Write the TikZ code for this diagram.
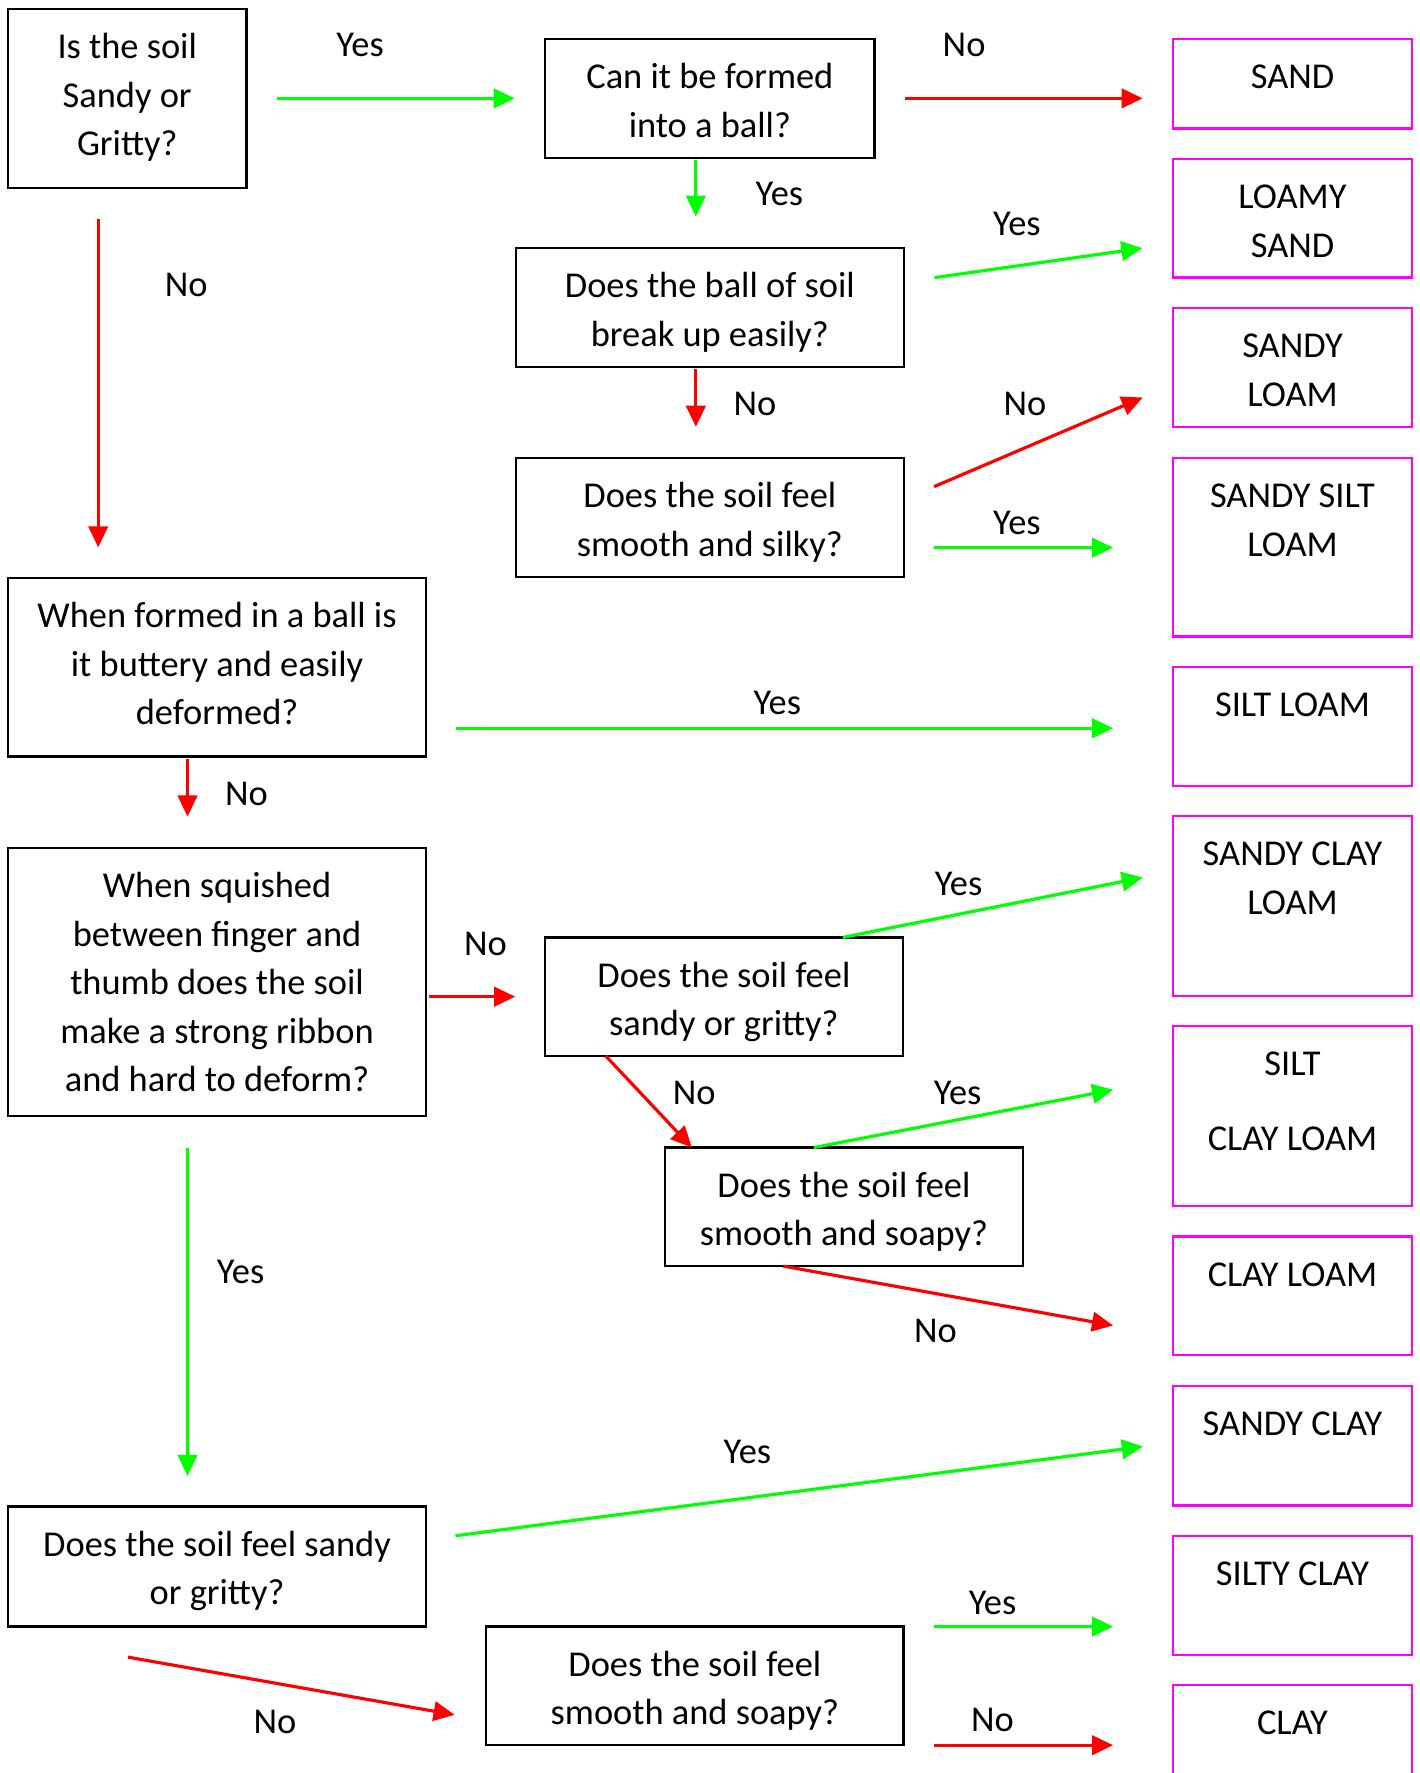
\documentclass[tikz,border=0pt]{standalone}
\usepackage{fontspec}
\setmainfont{Carlito}
\usepackage{tikz}
\usetikzlibrary{shapes}
\usetikzlibrary{arrows.meta}
\usetikzlibrary{positioning}
\definecolor{yesgreen}{RGB}{0,255,0}
\definecolor{nored}{RGB}{255,0,0}
\definecolor{resmagenta}{RGB}{255,0,255}
\newcommand{\boxtext}[3]{\parbox[c][#2][t]{#1}{\centering\rule{0pt}{28.2pt}#3}}
\tikzstyle{question} = [rectangle, inner sep=0pt, outer sep=0pt, draw=black, line width=1.3pt]
\tikzstyle{result} = [rectangle, inner sep=0pt, outer sep=0pt, draw=resmagenta, line width=1.3pt]
\tikzstyle{answer} = [inner sep=0pt, text=black]
\tikzstyle{yes} = [yesgreen, line width=1.8pt, -{Triangle[length=12pt, width=11pt]}]
\tikzstyle{no} = [nored, line width=1.8pt, -{Triangle[length=12pt, width=11pt]}]

\begin{document}
\begin{tikzpicture}[font=\fontsize{20.7}{27.6}\selectfont]

    \useasboundingbox (0,0) rectangle (28.363,-35.437);

    \node(Q1)[question] at (2.543,-1.966){\boxtext{4.77cm}{3.57cm}{Is the soil\\Sandy or\\Gritty?}};
    \node(Q2)[question, right=5.97cm of Q1]{\boxtext{6.58cm}{2.37cm}{Can it be formed\\into a ball?}};
    \node(Q3)[question, below=1.81cm of Q2]{\boxtext{7.75cm}{2.37cm}{Does the ball of soil\\break up easily?}};
    \node(Q4)[question, below=1.83cm of Q3]{\boxtext{7.75cm}{2.37cm}{Does the soil feel\\smooth and silky?}};
    \node(Q5)[question, below=7.8cm of Q1.south west, anchor=north west]{\boxtext{8.36cm}{3.57cm}{When formed in a ball is\\it buttery and easily\\deformed?}};
    \node(Q6)[question, below=1.83cm of Q5]{\boxtext{8.36cm}{5.36cm}{When squished\\between finger and\\thumb does the soil\\make a strong ribbon\\and hard to deform?}};
    \node(Q7)[question, right=2.37cm of Q6, yshift=-0.29cm]{\boxtext{7.16cm}{2.37cm}{Does the soil feel\\sandy or gritty?}};
    \node(Q8)[question, below=1.83cm of Q7.south west, anchor=north west, xshift=2.4cm]{\boxtext{7.16cm}{2.37cm}{Does the soil feel\\smooth and soapy?}};
    \node(Q9)[question, below=7.8cm of Q6]{\boxtext{8.36cm}{2.4cm}{Does the soil feel sandy\\or gritty?}};
    \node(Q10)[question, right=1.2cm of Q9.south east, anchor=north west]{\boxtext{8.34cm}{2.37cm}{Does the soil feel\\smooth and soapy?}};

    \node(SAND)[result, right=5.97cm of Q2.north east, anchor=north west]{\boxtext{4.77cm}{1.785cm}{SAND}};
    \node(LSAND)[result, below=0.61cm of SAND]{\boxtext{4.77cm}{2.373cm}{LOAMY\\SAND}};
    \node(SLOAM)[result, below=0.61cm of LSAND]{\boxtext{4.77cm}{2.373cm}{SANDY\\LOAM}};
    \node(SSLOAM)[result, below=0.62cm of SLOAM]{\boxtext{4.77cm}{3.571cm}{SANDY SILT\\LOAM}};
    \node(SILOAM)[result, below=0.61cm of SSLOAM]{\boxtext{4.77cm}{2.373cm}{SILT LOAM}};
    \node(SCLOAM)[result, below=0.61cm of SILOAM]{\boxtext{4.77cm}{3.593cm}{SANDY CLAY\\LOAM}};
    \node(SICLOAM)[result, below=0.6cm of SCLOAM]{\boxtext{4.77cm}{3.593cm}{SILT\\[0.52cm]CLAY LOAM}};
    \node(CLOAM)[result, below=0.61cm of SICLOAM]{\boxtext{4.77cm}{2.373cm}{CLAY LOAM}};
    \node(SCLAY)[result, below=0.61cm of CLOAM]{\boxtext{4.77cm}{2.396cm}{SANDY CLAY}};
    \node(SICLAY)[result, below=0.61cm of SCLAY]{\boxtext{4.77cm}{2.373cm}{SILTY CLAY}};
    \node(CLAY)[result, below=0.61cm of SICLAY]{\boxtext{4.77cm}{2.373cm}{CLAY}};

    % sandy or gritty
    \draw[yes, shorten <=0.61cm, shorten >=0.61cm] (Q1.east) -- (Q2.west) node[answer, pos=0.38, yshift=1.07cm]{Yes};
    \draw[no, shorten <=0.63cm, shorten >=0.61cm] ([xshift=-0.58cm]Q1.south) -- ([xshift=-0.58cm]Q1.south |- Q5.north) node[answer, pos=0.25, xshift=1.76cm]{No};
    \draw[no, shorten <=0.61cm, shorten >=0.61cm] (Q2.east) -- (Q2.east -| SAND.west) node[answer, pos=0.3, yshift=1.07cm]{No};
    \draw[yes, shorten <=0.05cm, shorten >=0.63cm] ([xshift=-0.28cm]Q2.south) -- ([xshift=-0.28cm]Q3.north) node[answer, pos=0.4, xshift=1.67cm]{Yes};
    \draw[yes, shorten <=0.62cm, shorten >=0.62cm] ([yshift=0.51cm]Q3.east) -- ([yshift=-0.51cm]LSAND.west) node[answer, pos=0.42, yshift=0.83cm]{Yes};
    \draw[no, shorten <=0.05cm, shorten >=0.63cm] ([xshift=-0.28cm]Q3.south) -- ([xshift=-0.28cm]Q4.north) node[answer, pos=0.41, xshift=1.18cm]{No};
    \draw[no, shorten <=0.66cm, shorten >=0.66cm] ([yshift=0.36cm]Q4.east) -- ([yshift=-0.34cm]SLOAM.west) node[answer, pos=0.45, yshift=0.88cm]{No};
    \draw[yes, shorten <=0.61cm, shorten >=1.2cm] ([yshift=-0.6cm]Q4.east) -- ([yshift=-0.6cm]Q4.east -| SSLOAM.west) node[answer, pos=0.42, yshift=0.5cm]{Yes};

    % ball and ribbon
    \draw[yes, shorten <=0.59cm, shorten >=1.2cm] ([yshift=-1.22cm]Q5.east) -- ([yshift=-1.22cm]Q5.east -| SILOAM.west) node[answer, pos=0.47, yshift=0.5cm]{Yes};
    \draw[no, shorten <=0.05cm, shorten >=0.63cm] ([xshift=-0.59cm]Q5.south) -- ([xshift=-0.59cm]Q6.north) node[answer, pos=0.41, xshift=1.18cm]{No};
    \draw[no, shorten <=0.05cm, shorten >=0.59cm] (Q6.east |- Q7.west) -- (Q7.west) node[answer, pos=0.5, yshift=1.06cm]{No};
    \draw[yes, shorten >=0.62cm] ([xshift=-1.2cm]Q7.north east) -- ([yshift=-1.1cm]SCLOAM.north west) node[answer, pos=0.35, yshift=0.61cm]{Yes};
    \draw[no] ([xshift=1.22cm]Q7.south west) -- ([xshift=0.54cm]Q8.north west) node[answer, pos=0.4, xshift=1.08cm]{No};
    \draw[yes, shorten >=1.22cm] ([xshift=2.98cm]Q8.north west) -- ([yshift=-1.04cm]SICLOAM.north west) node[answer, pos=0.4, yshift=0.54cm]{Yes};
    \draw[no, shorten >=1.22cm] ([xshift=2.37cm]Q8.south west) -- ([yshift=-0.81cm]CLOAM.west) node[answer, pos=0.39, yshift=-0.75cm]{No};

    \draw[yes, shorten <=0.63cm, shorten >=0.61cm] ([xshift=-0.59cm]Q6.south) -- ([xshift=-0.59cm]Q9.north) node[answer, pos=0.4, xshift=1.06cm]{Yes};
    \draw[yes, shorten <=0.59cm, shorten >=0.61cm] ([yshift=0.54cm]Q9.east) -- ([yshift=0.06cm]SCLAY.west) node[answer, pos=0.43, yshift=0.92cm]{Yes};
    \draw[no, shorten >=0.64cm] ([xshift=2.4cm, yshift=-0.61cm]Q9.south west) -- ([yshift=-0.69cm]Q10.west) node[answer, pos=0.41, yshift=-0.77cm]{No};
    \draw[yes, shorten <=0.61cm, shorten >=1.2cm] (Q10.north east) -- (Q10.north east -| SICLAY.west) node[answer, pos=0.33, yshift=0.47cm]{Yes};
    \draw[no, shorten <=0.61cm, shorten >=1.2cm] (Q10.south east) -- (Q10.south east -| CLAY.west) node[answer, pos=0.33, yshift=0.5cm]{No};

\end{tikzpicture}
\end{document}
